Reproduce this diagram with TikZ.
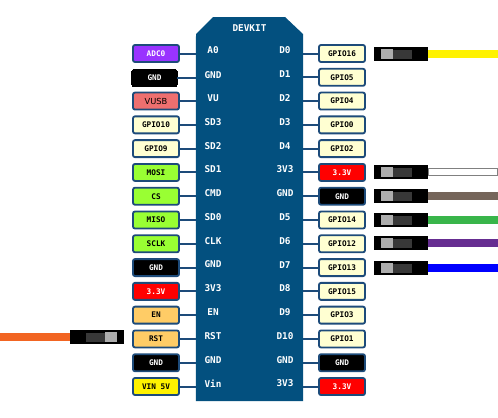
\documentclass[tikz,border=0pt]{standalone}
\usepackage{fontspec}
\setmainfont{DejaVu Sans}
\setmonofont{DejaVu Sans Mono}
\usetikzlibrary{positioning}
\definecolor{boardblue}{HTML}{03507F}
\definecolor{pinedge}{HTML}{1D4B7A}
\definecolor{adcpurple}{HTML}{9933FF}
\definecolor{vusbred}{HTML}{EE6F6F}
\definecolor{gpiocream}{HTML}{FFFFD2}
\definecolor{spigreen}{HTML}{99FF33}
\definecolor{ctrlorange}{HTML}{FFCC66}
\definecolor{wirebrown}{HTML}{75655A}
\definecolor{wiregreen}{HTML}{39B54A}
\definecolor{wirepurple}{HTML}{662D91}
\definecolor{wireorange}{HTML}{F26522}
\tikzset{
  pinlabel/.style={draw=pinedge,line width=0.055cm,rounded corners=0.06cm,minimum width=1.38cm,minimum height=0.51cm,inner sep=0pt,font=\ttfamily\bfseries\fontsize{6.6}{7}\selectfont},
  gpio/.style={pinlabel,fill=gpiocream},
  spi/.style={pinlabel,fill=spigreen},
  ctrl/.style={pinlabel,fill=ctrlorange},
  power/.style={pinlabel,fill=red,text=white},
  gnd/.style={pinlabel,fill=black,text=white},
  pintext/.style={text=white,inner sep=0pt,yshift=0.09cm,font=\ttfamily\bfseries\fontsize{8}{9}\selectfont},
  pinwire/.style={draw=pinedge,line width=0.06cm},
  plug/.style={fill=black,minimum width=1.62cm,minimum height=0.42cm,inner sep=0pt},
  pluglight/.style={fill=black!32,minimum width=0.36cm,minimum height=0.3cm,inner sep=0pt},
  plugdark/.style={fill=black!78,minimum width=0.57cm,minimum height=0.27cm,inner sep=0pt},
  wire/.style={minimum width=2.1cm,minimum height=0.24cm,inner sep=0pt}
}
\begin{document}
\begin{tikzpicture}[x=0.03cm,y=-0.03cm,node distance=0.7136cm,on grid]
\useasboundingbox (0,0) rectangle (498,418);
% board
\node[minimum width=3.21cm,minimum height=11.52cm,inner sep=0pt] (board) at (249.5,209) {};
\fill[boardblue] (board.south west) -- (196,34) -- (213,17) -- (285,17) -- (303,34) -- (board.south east) -- cycle;
\node[pintext,below=0.33cm of board.north] (title) {DEVKIT};
% left labels
\node[pinlabel,fill=adcpurple,text=white] (l1) at (156,53.5) {ADC0};
\node[gnd,draw=black,line width=0pt,minimum width=1.35cm,xshift=-0.045cm,yshift=-0.02cm,below=of l1] (l2) {GND};
\node[pinlabel,fill=vusbred,font=\fontsize{7.1}{8}\selectfont,below=1.427cm of l1] (l3) {VUSB};
\node[gpio,below=of l3] (l4) {GPIO10};
\node[gpio,below=of l4] (l5) {GPIO9};
\node[spi,below=of l5] (l6) {MOSI};
\node[spi,below=of l6] (l7) {CS};
\node[spi,below=of l7] (l8) {MISO};
\node[spi,below=of l8] (l9) {SCLK};
\node[gnd,below=of l9] (l10) {GND};
\node[power,below=of l10] (l11) {3.3V};
\node[ctrl,below=of l11] (l12) {EN};
\node[ctrl,below=of l12] (l13) {RST};
\node[gnd,below=of l13] (l14) {GND};
\node[pinlabel,fill=yellow,below=of l14] (l15) {VIN 5V};
% right labels
\node[gpio] (r1) at (342,53.5) {GPIO16};
\node[gpio,below=of r1] (r2) {GPIO5};
\node[gpio,below=of r2] (r3) {GPIO4};
\node[gpio,below=of r3] (r4) {GPIO0};
\node[gpio,below=of r4] (r5) {GPIO2};
\node[power,below=of r5] (r6) {3.3V};
\node[gnd,below=of r6] (r7) {GND};
\node[gpio,below=of r7] (r8) {GPIO14};
\node[gpio,below=of r8] (r9) {GPIO12};
\node[gpio,below=of r9] (r10) {GPIO13};
\node[gpio,below=of r10] (r11) {GPIO15};
\node[gpio,below=of r11] (r12) {GPIO3};
\node[gpio,below=of r12] (r13) {GPIO1};
\node[gnd,below=of r13] (r14) {GND};
\node[power,below=of r14] (r15) {3.3V};
% pin names on the board
\node[pintext,right=1.71cm of l1] (a1) {A0};
\node[pintext,right=1.755cm of l2] (a2) {GND};
\node[pintext,right=1.71cm of l3] (a3) {VU};
\node[pintext,right=1.71cm of l4] (a4) {SD3};
\node[pintext,right=1.71cm of l5] (a5) {SD2};
\node[pintext,right=1.71cm of l6] (a6) {SD1};
\node[pintext,right=1.71cm of l7] (a7) {CMD};
\node[pintext,right=1.71cm of l8] (a8) {SD0};
\node[pintext,right=1.71cm of l9] (a9) {CLK};
\node[pintext,right=1.71cm of l10] (a10) {GND};
\node[pintext,right=1.71cm of l11] (a11) {3V3};
\node[pintext,right=1.71cm of l12] (a12) {EN};
\node[pintext,right=1.71cm of l13] (a13) {RST};
\node[pintext,right=1.71cm of l14] (a14) {GND};
\node[pintext,right=1.71cm of l15] (a15) {Vin};
\node[pintext,left=1.71cm of r1] (b1) {D0};
\node[pintext,left=1.71cm of r2] (b2) {D1};
\node[pintext,left=1.71cm of r3] (b3) {D2};
\node[pintext,left=1.71cm of r4] (b4) {D3};
\node[pintext,left=1.71cm of r5] (b5) {D4};
\node[pintext,left=1.71cm of r6] (b6) {3V3};
\node[pintext,left=1.71cm of r7] (b7) {GND};
\node[pintext,left=1.71cm of r8] (b8) {D5};
\node[pintext,left=1.71cm of r9] (b9) {D6};
\node[pintext,left=1.71cm of r10] (b10) {D7};
\node[pintext,left=1.71cm of r11] (b11) {D8};
\node[pintext,left=1.71cm of r12] (b12) {D9};
\node[pintext,left=1.71cm of r13] (b13) {D10};
\node[pintext,left=1.71cm of r14] (b14) {GND};
\node[pintext,left=1.71cm of r15] (b15) {3V3};
% pin stubs
\draw[pinwire] (l1) -- (l1 -| board.west);
\draw[pinwire] (l2) -- (l2 -| board.west);
\draw[pinwire] (l3) -- (l3 -| board.west);
\draw[pinwire] (l4) -- (l4 -| board.west);
\draw[pinwire] (l5) -- (l5 -| board.west);
\draw[pinwire] (l6) -- (l6 -| board.west);
\draw[pinwire] (l7) -- (l7 -| board.west);
\draw[pinwire] (l8) -- (l8 -| board.west);
\draw[pinwire] (l9) -- (l9 -| board.west);
\draw[pinwire] (l10) -- (l10 -| board.west);
\draw[pinwire] (l11) -- (l11 -| board.west);
\draw[pinwire] (l12) -- (l12 -| board.west);
\draw[pinwire] (l13) -- (l13 -| board.west);
\draw[pinwire] (l14) -- (l14 -| board.west);
\draw[pinwire] (l15) -- (l15 -| board.west);
\draw[pinwire] (r1) -- (r1 -| board.east);
\draw[pinwire] (r2) -- (r2 -| board.east);
\draw[pinwire] (r3) -- (r3 -| board.east);
\draw[pinwire] (r4) -- (r4 -| board.east);
\draw[pinwire] (r5) -- (r5 -| board.east);
\draw[pinwire] (r6) -- (r6 -| board.east);
\draw[pinwire] (r7) -- (r7 -| board.east);
\draw[pinwire] (r8) -- (r8 -| board.east);
\draw[pinwire] (r9) -- (r9 -| board.east);
\draw[pinwire] (r10) -- (r10 -| board.east);
\draw[pinwire] (r11) -- (r11 -| board.east);
\draw[pinwire] (r12) -- (r12 -| board.east);
\draw[pinwire] (r13) -- (r13 -| board.east);
\draw[pinwire] (r14) -- (r14 -| board.east);
\draw[pinwire] (r15) -- (r15 -| board.east);
% jumper plugs
\node[plug] (plugA) at (401,54) {};
\node[pluglight,left=0.42cm of plugA] (lightA) {};
\node[plugdark,right=0.465cm of lightA] (darkA) {};
\node[wire,fill=yellow,anchor=west] (wireA) at (plugA.east) {};
\node[plug] (plugB) at (401,172) {};
\node[pluglight,left=0.42cm of plugB] (lightB) {};
\node[plugdark,right=0.465cm of lightB] (darkB) {};
\node[wire,draw=black!50,fill=white,line width=0.03cm,minimum width=2.07cm,minimum height=0.21cm,anchor=west] (wireB) at (plugB.east) {};
\node[plug] (plugC) at (401,196) {};
\node[pluglight,left=0.42cm of plugC] (lightC) {};
\node[plugdark,right=0.465cm of lightC] (darkC) {};
\node[wire,fill=wirebrown,anchor=west] (wireC) at (plugC.east) {};
\node[plug] (plugD) at (401,220) {};
\node[pluglight,left=0.42cm of plugD] (lightD) {};
\node[plugdark,right=0.465cm of lightD] (darkD) {};
\node[wire,fill=wiregreen,anchor=west] (wireD) at (plugD.east) {};
\node[plug] (plugE) at (401,243) {};
\node[pluglight,left=0.42cm of plugE] (lightE) {};
\node[plugdark,right=0.465cm of lightE] (darkE) {};
\node[wire,fill=wirepurple,anchor=west] (wireE) at (plugE.east) {};
\node[plug] (plugF) at (401,268) {};
\node[pluglight,left=0.42cm of plugF] (lightF) {};
\node[plugdark,right=0.465cm of lightF] (darkF) {};
\node[wire,fill=blue,anchor=west] (wireF) at (plugF.east) {};
\node[plug] (plugG) at (97,337) {};
\node[pluglight,right=0.42cm of plugG] (lightG) {};
\node[plugdark,left=0.465cm of lightG] (darkG) {};
\node[wire,fill=wireorange,anchor=east] (wireG) at (plugG.west) {};
\end{tikzpicture}
\end{document}
